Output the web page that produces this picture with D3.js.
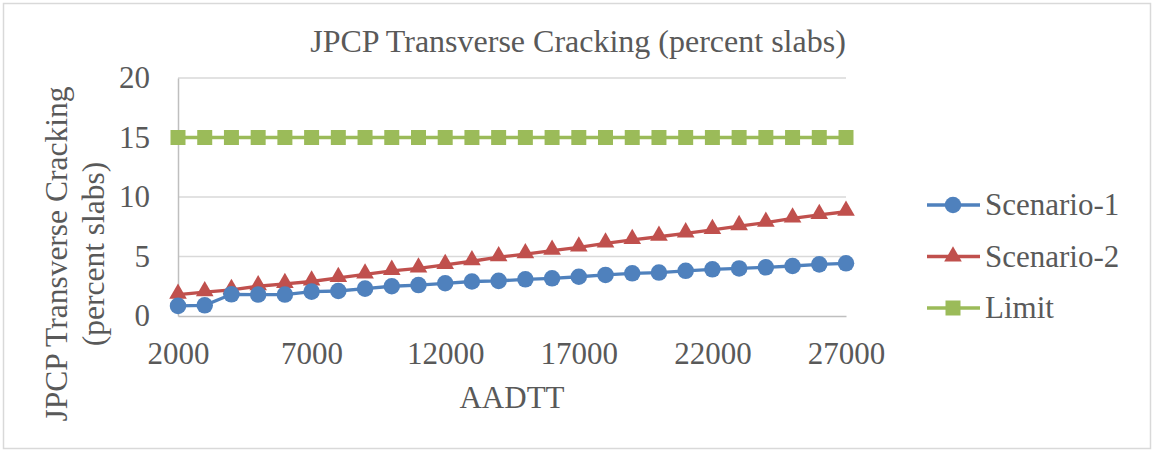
<!DOCTYPE html>
<html><head><meta charset="utf-8">
<script src="https://cdn.jsdelivr.net/npm/d3@7"></script>
<style>body{margin:0;background:#fff}svg text{font-family:'Liberation Serif','Tinos','Times New Roman',Times,'DejaVu Serif',serif !important;fill:#595959}</style>
</head><body><svg id="c" width="1155" height="452"></svg>
<script>
const aadtt = [2000,3000,4000,5000,6000,7000,8000,9000,10000,11000,12000,13000,14000,15000,16000,17000,18000,19000,20000,21000,22000,23000,24000,25000,26000,27000];
const scenario1 = [0.85,0.9,1.82,1.8,1.8,2.05,2.1,2.3,2.5,2.6,2.75,2.9,2.95,3.08,3.17,3.3,3.45,3.59,3.65,3.8,3.92,4.0,4.09,4.2,4.34,4.43];
const scenario2 = [1.8,2.0,2.2,2.5,2.7,2.9,3.2,3.5,3.8,4.0,4.3,4.6,4.95,5.2,5.49,5.77,6.1,6.39,6.66,6.95,7.23,7.56,7.84,8.2,8.49,8.76];
const limit = [15,15,15,15,15,15,15,15,15,15,15,15,15,15,15,15,15,15,15,15,15,15,15,15,15,15];
const xTicks = [2000,7000,12000,17000,22000,27000];
const yTicks = [0,5,10,15,20];
const seriesNames = ["Scenario-1","Scenario-2","Limit"];

const FONT = "'Liberation Serif','Tinos','Times New Roman',Times,'DejaVu Serif',serif";
const svg = d3.select("#c");
const colors = {"Scenario-1":"#4f81bd","Scenario-2":"#c0504d","Limit":"#9bbb59"};
const symbols = {"Scenario-1":d3.symbolCircle,"Scenario-2":d3.symbolTriangle,"Limit":d3.symbolSquare};
const sizes = {"Scenario-1":215,"Scenario-2":135,"Limit":225};

svg.append("rect").attr("x",3.5).attr("y",3.5).attr("width",1147).attr("height",445)
  .attr("fill","#fff").attr("stroke","#d9d9d9").attr("stroke-width",1.5);

const x = d3.scaleLinear().domain([2000,27000]).range([178,846]);
const y = d3.scaleLinear().domain([0,20]).range([316,78]);

svg.append("g").selectAll("line").data(yTicks.filter(d=>d>0)).join("line")
  .attr("x1",x(2000)).attr("x2",x(27000)).attr("y1",d=>y(d)).attr("y2",d=>y(d))
  .attr("stroke","#d9d9d9").attr("stroke-width",1.5);

const yAxis = svg.append("g").attr("transform",`translate(${x(2000)},0)`)
  .call(d3.axisLeft(y).tickValues(yTicks).tickSize(0).tickPadding(28));
yAxis.attr("font-family",FONT);
yAxis.select(".domain").attr("stroke","#bfbfbf").attr("stroke-width",1.5);
yAxis.selectAll("text").attr("font-size",31).attr("fill","#595959");

const xAxis = svg.append("g").attr("transform",`translate(0,${y(0)})`)
  .call(d3.axisBottom(x).tickValues(xTicks).tickFormat(d3.format("d")).tickSize(0).tickPadding(26));
xAxis.attr("font-family",FONT);
xAxis.select(".domain").attr("stroke","#bfbfbf").attr("stroke-width",1.5);
xAxis.selectAll("text").attr("font-size",31).attr("fill","#595959");

const data = {"Scenario-1":scenario1,"Scenario-2":scenario2,"Limit":limit};
const line = d3.line().x((d,i)=>x(aadtt[i])).y(d=>y(d));
seriesNames.slice().reverse().forEach(name=>{
  const g = svg.append("g");
  g.append("path").datum(data[name]).attr("d",line).attr("fill","none")
    .attr("stroke",colors[name]).attr("stroke-width",3.3);
  g.selectAll("path.m").data(data[name]).join("path").attr("class","m")
    .attr("transform",(d,i)=>`translate(${x(aadtt[i])},${y(d) + (name==="Scenario-2"?-1:0)})`)
    .attr("d",d3.symbol().type(symbols[name]).size(sizes[name]))
    .attr("fill",colors[name]);
});

svg.append("text").attr("x",578).attr("y",52).attr("text-anchor","middle")
  .attr("font-family",FONT).attr("font-size",32).text("JPCP Transverse Cracking (percent slabs)");
svg.append("text").attr("x",512).attr("y",408).attr("text-anchor","middle")
  .attr("font-family",FONT).attr("font-size",31).text("AADTT");
const yt = svg.append("text").attr("transform","translate(67,254) rotate(-90)")
  .attr("text-anchor","middle").attr("font-family",FONT).attr("font-size",31.5);
yt.append("tspan").attr("x",0).attr("y",0).text("JPCP Transverse Cracking");
yt.append("tspan").attr("x",0).attr("y",37).text("(percent slabs)");

const lg = svg.append("g");
seriesNames.forEach((name,i)=>{
  const cy = 205 + i*51.5;
  lg.append("line").attr("x1",927).attr("x2",980).attr("y1",cy).attr("y2",cy)
    .attr("stroke",colors[name]).attr("stroke-width",3.3);
  lg.append("path").attr("transform",`translate(953,${cy})`)
    .attr("d",d3.symbol().type(symbols[name]).size(sizes[name])).attr("fill",colors[name]);
  lg.append("text").attr("x",985).attr("y",cy+10).attr("font-family",FONT).attr("font-size",31).text(name);
});
</script></body></html>
